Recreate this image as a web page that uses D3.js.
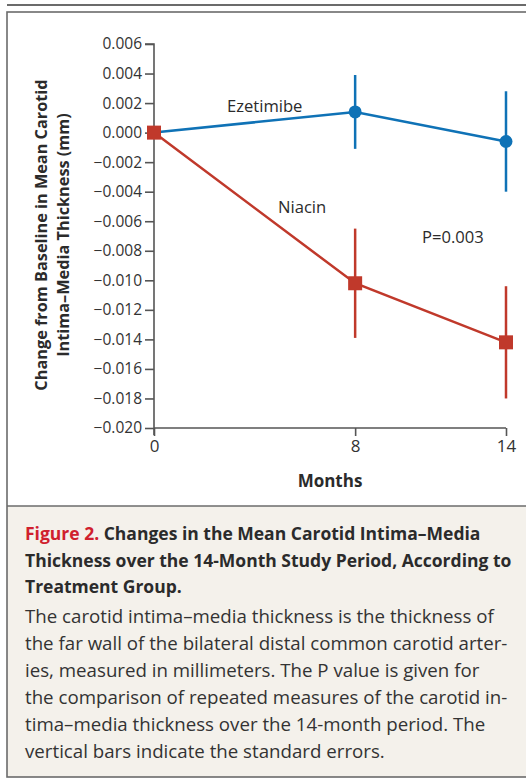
<!DOCTYPE html>
<html>
<head>
<meta charset="utf-8">
<script src="https://cdn.jsdelivr.net/npm/d3@7"></script>
<style>
  body { margin: 0; background: #fff; }
  text { font-family: "Open Sans", sans-serif; }
</style>
</head>
<body>
<div id="chart"></div>
<script>
// data
var months = [0, 8, 14];
var ezetimibe = [0.0000, 0.0014, -0.0006];
var ezetimibeSE = [0, 0.0025, 0.0034];
var niacin = [0.0000, -0.0102, -0.0142];
var niacinSE = [0, 0.0037, 0.0038];
var yTicks = d3.range(-0.020, 0.0061, 0.002);
var xTicks = [0, 8, 14];

var titleLines = ["Changes in the Mean Carotid Intima\u2013Media",
  "Thickness over the 14-Month Study Period, According to",
  "Treatment Group."];
var bodyLines = ["The carotid intima\u2013media thickness is the thickness of",
  "the far wall of the bilateral distal common carotid arter-",
  "ies, measured in millimeters. The P value is given for",
  "the comparison of repeated measures of the carotid in-",
  "tima\u2013media thickness over the 14-month period. The",
  "vertical bars indicate the standard errors."];

var W = 526, H = 780;
var blue = "#0f72b6", red = "#c0392b", axisCol = "#555", ink = "#2b2b2b";

var svg = d3.select("#chart").append("svg")
  .attr("width", W).attr("height", H);

// frame
svg.append("line").attr("x1", 7).attr("x2", W).attr("y1", 5).attr("y2", 5)
  .style("stroke", "#6b6b6b").style("stroke-width", 2);
svg.append("rect").attr("x", 7).attr("y", 506).attr("width", W).attr("height", 271)
  .style("fill", "#f4f1eb");
svg.append("rect").attr("x", 7).attr("y", 12).attr("width", W + 10).attr("height", 765)
  .style("fill", "none").style("stroke", "#6b6b6b").style("stroke-width", 1.6);
svg.append("line").attr("x1", 7).attr("x2", W).attr("y1", 506).attr("y2", 506)
  .style("stroke", "#6b6b6b").style("stroke-width", 1.6);

// scales
var x = d3.scaleLinear().domain([0, 14]).range([154, 506]);
var y = d3.scaleLinear().domain([-0.020, 0.006]).range([428, 44]);

// y axis
var yAxis = svg.append("g").attr("transform", "translate(154,0)")
  .attr("font-size", 15.5).attr("font-family", "'Open Sans', sans-serif")
  .call(d3.axisLeft(y).tickValues(yTicks).tickSize(9).tickPadding(3)
    .tickFormat(function(d) { return Math.abs(d) < 1e-9 ? "0.000" : d3.format(".3f")(d).replace("-", "\u2212"); }));
yAxis.attr("font-size", 15.5).attr("font-family", "'Open Sans', sans-serif");
yAxis.select(".domain").attr("d", "M-9,44H0V435");

// x axis
var xAxis = svg.append("g").attr("transform", "translate(0,428)")
  .call(d3.axisBottom(x).tickValues(xTicks).tickSize(8).tickPadding(4));
xAxis.attr("font-size", 17).attr("font-family", "'Open Sans', sans-serif");
xAxis.select(".domain").attr("d", "M154,0H506");

svg.selectAll(".tick line, .domain").style("stroke", axisCol).style("stroke-width", 1.6);
svg.selectAll(".tick text").style("fill", "#333");

// axis titles
svg.append("text").attr("transform", "translate(47,235) rotate(-90)")
  .attr("text-anchor", "middle").style("font-size", "16.3px").style("font-weight", "bold")
  .style("fill", ink).text("Change from Baseline in Mean Carotid");
svg.append("text").attr("transform", "translate(69,235) rotate(-90)")
  .attr("text-anchor", "middle").style("font-size", "16.3px").style("font-weight", "bold")
  .style("fill", ink).text("Intima\u2013Media Thickness (mm)");
svg.append("text").attr("x", 330).attr("y", 487).attr("text-anchor", "middle")
  .style("font-size", "17px").style("font-weight", "bold").style("fill", ink)
  .text("Months");

// series
function drawSeries(vals, se, col, shape) {
  var g = svg.append("g");
  var pts = vals.map(function(v, i) { return { m: months[i], v: v, se: se[i] }; });
  var line = d3.line().x(function(d) { return x(d.m); }).y(function(d) { return y(d.v); });
  g.selectAll(".err").data(pts.filter(function(d) { return d.se > 0; })).enter()
    .append("line")
    .attr("x1", function(d) { return x(d.m); })
    .attr("x2", function(d) { return x(d.m); })
    .attr("y1", function(d) { return y(d.v + d.se); })
    .attr("y2", function(d) { return y(d.v - d.se); })
    .style("stroke", col).style("stroke-width", 2.5);
  g.append("path").datum(pts).attr("d", line)
    .style("fill", "none").style("stroke", col).style("stroke-width", 2.5);
  if (shape == "circle") {
    g.selectAll("circle").data(pts).enter().append("circle")
      .attr("cx", function(d) { return x(d.m); })
      .attr("cy", function(d) { return y(d.v); })
      .attr("r", 6.5).style("fill", col);
  } else {
    g.selectAll("rect").data(pts).enter().append("rect")
      .attr("x", function(d) { return x(d.m) - 7; })
      .attr("y", function(d) { return y(d.v) - 7; })
      .attr("width", 14).attr("height", 14).style("fill", col);
  }
}
drawSeries(ezetimibe, ezetimibeSE, blue, "circle");
drawSeries(niacin, niacinSE, red, "square");

// labels
svg.append("text").attr("x", 227).attr("y", 112).style("font-size", "16.6px").style("fill", ink).text("Ezetimibe");
svg.append("text").attr("x", 278).attr("y", 213).style("font-size", "16.6px").style("fill", ink).text("Niacin");
svg.append("text").attr("x", 422).attr("y", 243).style("font-size", "16.6px").style("fill", ink).text("P=0.003");

// caption
var cap = svg.append("text").style("font-size", "17.5px")
  .style("font-weight", "bold").style("fill", ink);
titleLines.forEach(function(t, i) {
  var ts = cap.append("tspan").attr("x", 25).attr("y", 540 + i * 26.5);
  if (i == 0) {
    ts.append("tspan").style("fill", "#d0202e").text("Figure 2. ");
    ts.append("tspan").text(t);
  } else ts.text(t);
});
svg.append("g").selectAll("text").data(bodyLines).enter().append("text")
  .attr("x", 25).attr("y", function(d, i) { return 623 + i * 27; })
  .style("font-size", "18.7px").style("fill", "#333").text(function(d) { return d; });
</script>
</body>
</html>
